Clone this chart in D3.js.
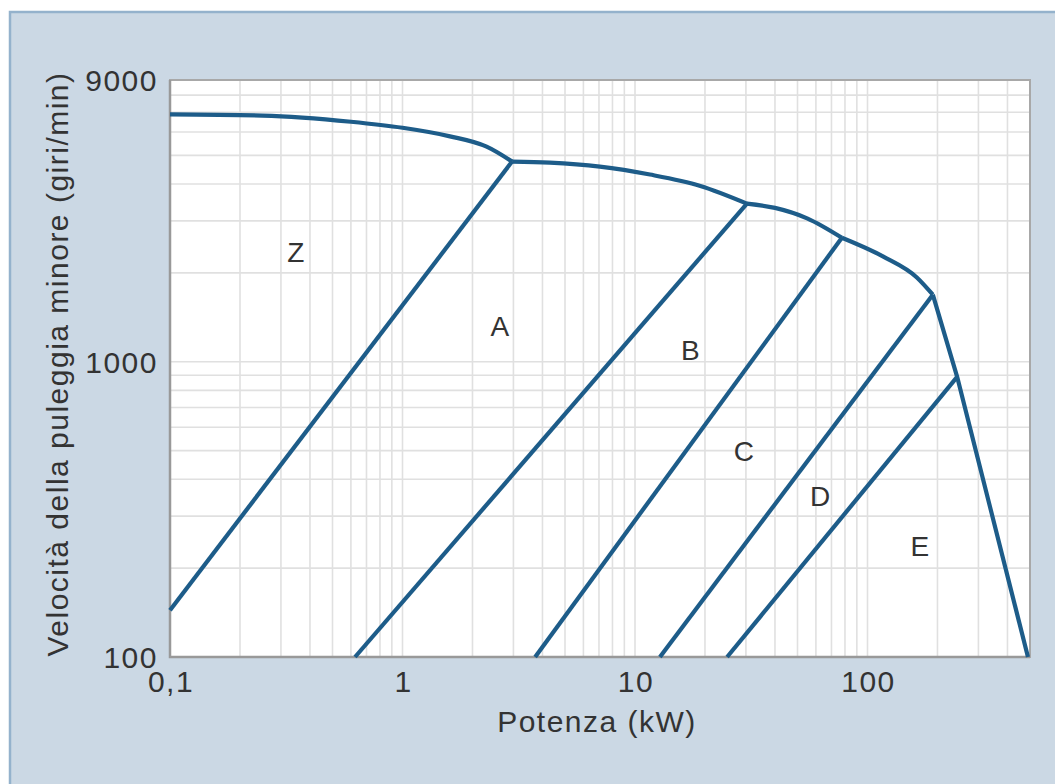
<!DOCTYPE html>
<html>
<head>
<meta charset="utf-8">
<script src="https://cdn.jsdelivr.net/npm/d3@7"></script>
<style>
  body { margin: 0; background: #fff; }
  text { font-family: "Liberation Sans", Arial, Helvetica, sans-serif; fill: #333; letter-spacing: 1.5px; }
</style>
</head>
<body>
<div id="chart"></div>
<script>
// ticks and grid
var xTicks = [0.1, 1, 10, 100];
var yTicks = [100, 1000, 9000];
var xGrid = [0.2, 0.3, 0.4, 0.5, 0.6, 0.7, 0.8, 0.9, 1, 2, 3, 4, 5, 6, 7, 8, 9, 10,
             20, 30, 40, 50, 60, 70, 80, 90, 100, 200, 300, 400];
var yGrid = [200, 300, 400, 500, 600, 700, 800, 900, 1000,
             2000, 3000, 4000, 5000, 6000, 7000, 8000];

// upper limit curve, one piece per belt section [kW, giri/min]
var zTop = [[0.1, 6880], [0.25, 6820], [0.6, 6500], [1, 6200], [1.6, 5800], [2.3, 5350], [2.96, 4765]];
var aTop = [[2.96, 4765], [4.3, 4727], [7.06, 4581], [11.6, 4305], [19.1, 3940], [30.3, 3433]];
var bTop = [[30.3, 3433], [40, 3320], [55, 3060], [77.6, 2630]];
var cTop = [[77.6, 2630], [117, 2270], [163, 1930], [191, 1687]];
var eLine = [[191, 1687], [243, 889], [490, 100]];

// boundaries between sections
var zaLine = [[0.1, 144], [2.96, 4765]];
var abLine = [[0.625, 100], [30.3, 3433]];
var bcLine = [[3.72, 100], [77.6, 2630]];
var cdLine = [[12.8, 100], [191, 1687]];
var deLine = [[24.9, 100], [243, 889]];

var sections = ["Z", "A", "B", "C", "D", "E"];
var sectionP = [0.348, 2.62, 17.3, 29.4, 62.5, 168];
var sectionN = [2360, 1325, 1099, 499, 351, 238];

var W = 1055, H = 784;
var svg = d3.select("#chart").append("svg")
  .attr("width", W)
  .attr("height", H);

// panel background
svg.append("rect")
  .attr("x", 10).attr("y", 12)
  .attr("width", W).attr("height", H)
  .attr("fill", "#cbd8e4")
  .attr("stroke", "#94b2cc")
  .attr("stroke-width", 2.5);

var x = d3.scaleLog().domain([0.1, 500]).range([170, 1030]);
var y = d3.scaleLog().domain([100, 9000]).range([657, 80]);

svg.append("rect")
  .attr("x", 170).attr("y", 80)
  .attr("width", 860).attr("height", 577)
  .attr("fill", "#fff");

var grid = svg.append("g").attr("stroke", "#e0e0e0").attr("stroke-width", 1.6);
grid.selectAll("line.v").data(xGrid).enter().append("line")
  .attr("class", "v")
  .attr("x1", d => x(d)).attr("x2", d => x(d))
  .attr("y1", y(9000)).attr("y2", y(100));
grid.selectAll("line.h").data(yGrid).enter().append("line")
  .attr("class", "h")
  .attr("x1", x(0.1)).attr("x2", x(500))
  .attr("y1", d => y(d)).attr("y2", d => y(d));

// frame
svg.append("rect")
  .attr("x", 170).attr("y", 80)
  .attr("width", 860).attr("height", 577)
  .attr("fill", "none")
  .attr("stroke", "#a8a8a8")
  .attr("stroke-width", 2);
svg.append("path")
  .attr("d", "M" + x(0.1) + "," + y(9000) + "V" + y(100) + "H" + x(500))
  .attr("fill", "none")
  .attr("stroke", "#999")
  .attr("stroke-width", 2.5);

// curves
var smooth = d3.line().x(d => x(d[0])).y(d => y(d[1])).curve(d3.curveMonotoneX);
var straight = d3.line().x(d => x(d[0])).y(d => y(d[1]));

var curves = svg.append("g")
  .attr("fill", "none")
  .attr("stroke", "#1d5c89")
  .attr("stroke-width", 4.2)
  .attr("stroke-linejoin", "round");

[zTop, aTop, bTop, cTop].forEach(function(c) {
  curves.append("path").attr("d", smooth(c));
});
[eLine, zaLine, abLine, bcLine, cdLine, deLine].forEach(function(c) {
  curves.append("path").attr("d", straight(c));
});

// section letters
svg.selectAll("text.sec").data(sections).enter().append("text")
  .attr("class", "sec")
  .attr("x", (d, i) => x(sectionP[i]))
  .attr("y", (d, i) => y(sectionN[i]))
  .attr("text-anchor", "middle")
  .attr("dy", "0.36em")
  .style("font-size", "28px")
  .style("letter-spacing", "0px")
  .text(d => d);

// tick labels
svg.selectAll("text.xt").data(xTicks).enter().append("text")
  .attr("class", "xt")
  .attr("x", d => x(d) + 1)
  .attr("y", 692)
  .attr("text-anchor", "middle")
  .style("font-size", "30px")
  .text(d => d3.format("~g")(d).replace(".", ","));

svg.selectAll("text.yt").data(yTicks).enter().append("text")
  .attr("class", "yt")
  .attr("x", 158)
  .attr("y", d => y(d))
  .attr("dy", "0.36em")
  .attr("text-anchor", "end")
  .style("font-size", "30px")
  .text(d => d);

// axis titles
svg.append("text")
  .attr("x", 597).attr("y", 732)
  .attr("text-anchor", "middle")
  .style("font-size", "30px")
  .text("Potenza (kW)");

svg.append("text")
  .attr("transform", "translate(68,364) rotate(-90)")
  .attr("text-anchor", "middle")
  .style("font-size", "30px")
  .text("Velocità della puleggia minore (giri/min)");
</script>
</body>
</html>
